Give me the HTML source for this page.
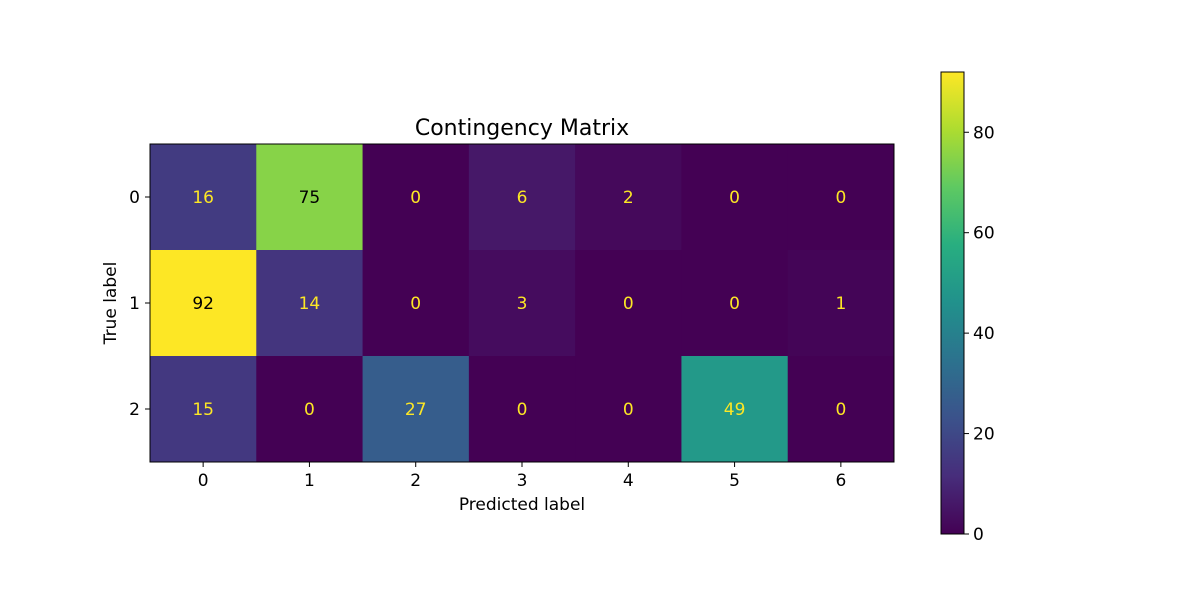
<!DOCTYPE html>
<html><head><meta charset="utf-8"><style>
body{margin:0;background:#fff;}
svg text{font-family:"DejaVu Sans","Liberation Sans",sans-serif;}
</style></head><body>
<svg id="chart" width="1200" height="600" xmlns="http://www.w3.org/2000/svg">
<rect width="1200" height="600" fill="#fff"/>
<defs><linearGradient id="vir" x1="0" y1="1" x2="0" y2="0">
<stop offset="0" stop-color="#440154"/><stop offset="0.125" stop-color="#472d7b"/><stop offset="0.25" stop-color="#3b528b"/><stop offset="0.375" stop-color="#2c728e"/><stop offset="0.5" stop-color="#21918c"/><stop offset="0.625" stop-color="#28ae80"/><stop offset="0.75" stop-color="#5ec962"/><stop offset="0.875" stop-color="#addc30"/><stop offset="1" stop-color="#fde725"/>
</linearGradient></defs>
<g id="cells"></g>
<text x="522" y="135" font-size="22" text-anchor="middle">Contingency Matrix</text>
<text x="522" y="510" font-size="17" text-anchor="middle">Predicted label</text>
<text transform="translate(119,303) rotate(-90)" font-size="17" text-anchor="middle" dy="-3">True label</text>
<rect x="941" y="72" width="23" height="462" fill="url(#vir)" stroke="#000" stroke-width="1"/>
<g id="cbticks"></g>
</svg>
<script>
const rowLabels=["0","1","2"];
const colLabels=["0","1","2","3","4","5","6"];
const row0=[16,75,0,6,2,0,0];
const row1=[92,14,0,3,0,0,1];
const row2=[15,0,27,0,0,49,0];
const cbTicks=[0,20,40,60,80];
const vmin=0, vmax=92;
const matrix=[row0,row1,row2];
const X0=150,X1=894,Y0=144,Y1=462;
const cw=(X1-X0)/colLabels.length, rh=(Y1-Y0)/rowLabels.length;
const xPos=i=>X0+i*cw, yPos=j=>Y0+j*rh;
const cbY=v=>534-(v-vmin)/(vmax-vmin)*462;
const stops=["#440154","#472d7b","#3b528b","#2c728e","#21918c","#28ae80","#5ec962","#addc30","#fde725"].map(h=>[1,3,5].map(k=>parseInt(h.substr(k,2),16)));
function vir(t){t=Math.max(0,Math.min(1,t));const s=t*8,i=Math.min(7,Math.floor(s)),f=s-i;const a=stops[i],b=stops[i+1];return `rgb(${a.map((v,k)=>Math.round(v+(b[k]-v)*f)).join(",")})`;}
const ns="http://www.w3.org/2000/svg";
const g=document.getElementById("cells"),cb=document.getElementById("cbticks");
function mk(t,attrs,p){const e=document.createElementNS(ns,t);for(const k in attrs)e.setAttribute(k,attrs[k]);p.appendChild(e);return e;}
matrix.forEach((row,j)=>row.forEach((v,i)=>{
 const r=mk("rect",{x:xPos(i),y:yPos(j),width:cw+0.5,height:rh+0.5,fill:vir((v-vmin)/(vmax-vmin))},g);
 
 
 const t=mk("text",{x:xPos(i)+cw/2,y:yPos(j)+rh/2+6,"font-size":"17","text-anchor":"middle",fill:(v-vmin)/(vmax-vmin)>0.6?"#000":"#fde725"},g);
 t.textContent=v;
 
 
}));
mk("rect",{x:X0,y:Y0,width:X1-X0,height:Y1-Y0,fill:"none",stroke:"#000","stroke-width":1},g);
colLabels.forEach((l,i)=>{const x=xPos(i)+cw/2;mk("line",{x1:x,x2:x,y1:Y1,y2:Y1+5,stroke:"#000"},g);
 const t=mk("text",{x:x,y:Y1+24,"font-size":"17","text-anchor":"middle"},g);t.textContent=l;
 
 });
rowLabels.forEach((l,j)=>{const y=yPos(j)+rh/2;mk("line",{x1:X0-5,x2:X0,y1:y,y2:y,stroke:"#000"},g);
 const t=mk("text",{x:X0-10,y:y+6,"font-size":"17","text-anchor":"end"},g);t.textContent=l;
 
 });
cbTicks.forEach(v=>{const y=cbY(v);mk("line",{x1:964,x2:969,y1:y,y2:y,stroke:"#000"},cb);
 const t=mk("text",{x:973,y:y+6,"font-size":"17"},cb);t.textContent=v;
 
 });
</script>
</body></html>
